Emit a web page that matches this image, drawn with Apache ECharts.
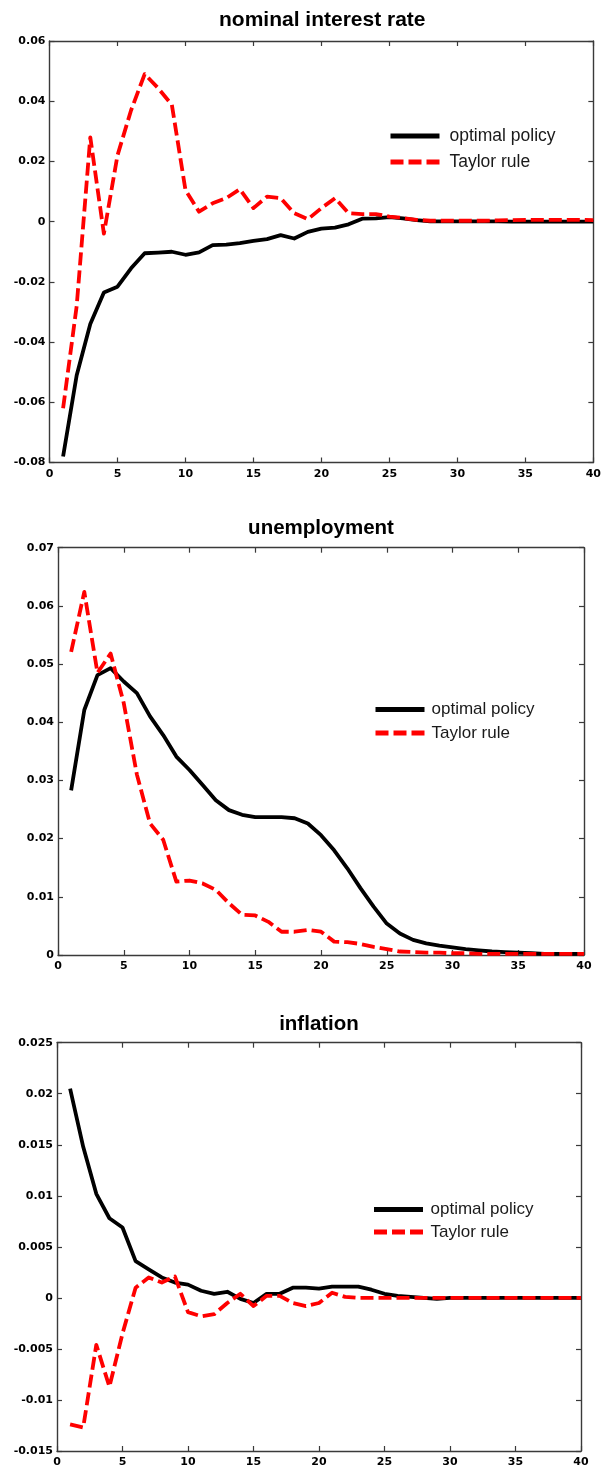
<!DOCTYPE html>
<html>
<head>
<meta charset="utf-8">
<script src="https://cdn.jsdelivr.net/npm/echarts@6/dist/echarts.min.js"></script>
<style>
  html, body { margin: 0; padding: 0; background: #fff; }
  #chart { width: 604px; height: 1472px; }
</style>
</head>
<body>
<div id="chart"></div>
<script>
// Impulse responses over 40 periods: optimal policy vs. Taylor rule
const periods = [1,2,3,4,5,6,7,8,9,10,11,12,13,14,15,16,17,18,19,20,
                 21,22,23,24,25,26,27,28,29,30,31,32,33,34,35,36,37,38,39,40];

const panelTitles = ['nominal interest rate', 'unemployment', 'inflation'];
const seriesNames = ['optimal policy', 'Taylor rule'];

const rateOptimal = [-0.078,-0.051,-0.034,-0.0235,-0.0216,-0.0155,-0.0105,-0.0103,-0.0100,-0.0110,
                     -0.0102,-0.0078,-0.0076,-0.0071,-0.0064,-0.0058,-0.0045,-0.0056,-0.0034,-0.0023,
                     -0.0020,-0.0009,0.0010,0.0011,0.0015,0.0011,0.0005,0.0001,0.0001,0.0001,
                     0.0001,0.0001,0.0001,0,0,0,0,0,0,0];
const rateTaylor = [-0.062,-0.028,0.028,-0.004,0.022,0.037,0.049,0.0443,0.0388,0.0105,
                    0.0033,0.0061,0.0078,0.0108,0.0045,0.0083,0.0078,0.0028,0.0008,0.0045,
                    0.0078,0.0028,0.0025,0.0025,0.0017,0.0012,0.0006,0.0003,0.0003,0.0003,
                    0.0003,0.0003,0.0004,0.0005,0.0006,0.0006,0.0006,0.0006,0.0006,0.0005];

const unempOptimal = [0.0283,0.0421,0.0481,0.0493,0.0470,0.0450,0.0410,0.0378,0.0341,0.0318,
                      0.0292,0.0266,0.0249,0.0241,0.0237,0.0237,0.0237,0.0235,0.0226,0.0206,
                      0.0180,0.0149,0.0115,0.0083,0.0054,0.0037,0.0026,0.0020,0.0016,0.0013,
                      0.0010,0.0008,0.0006,0.0005,0.0004,0.0003,0.0002,0.0002,0.0002,0.0002];
const unempTaylor = [0.0521,0.0624,0.0485,0.0518,0.0433,0.0310,0.0226,0.0198,0.0126,0.0128,
                     0.0123,0.0112,0.0089,0.0069,0.0068,0.0057,0.0040,0.0040,0.0043,0.0040,
                     0.0023,0.0022,0.0019,0.0014,0.0010,0.0006,0.0005,0.0004,0.0004,0.0003,
                     0.0003,0.0002,0.0002,0.0002,0.0002,0.0002,0.0002,0.0002,0.0002,0.0002];

const inflOptimal = [0.0205,0.0148,0.0102,0.0078,0.0069,0.0036,0.0028,0.0020,0.0015,0.0013,
                     0.0007,0.0004,0.0006,-0.0001,-0.0005,0.0004,0.0004,0.0010,0.0010,0.0009,
                     0.0011,0.0011,0.0011,0.0008,0.0004,0.0002,0.0001,0,-0.0001,0,
                     0,0,0,0,0,0,0,0,0,0];
const inflTaylor = [-0.0124,-0.0127,-0.0046,-0.0087,-0.0035,0.0010,0.0020,0.0015,0.0021,-0.0014,
                    -0.0018,-0.0016,-0.0005,0.0004,-0.0008,0.0002,0.0002,-0.0005,-0.0008,-0.0005,
                    0.0005,0.0001,0,0,0,0,0,0,0,0,
                    0,0,0,0,0,0,0,0,0,0];

// y-axis ranges: [min, max, interval]
const yRanges = [[-0.08, 0.06, 0.02], [0, 0.07, 0.01], [-0.015, 0.025, 0.005]];
const panelData = [[rateOptimal, rateTaylor], [unempOptimal, unempTaylor], [inflOptimal, inflTaylor]];

// layout of the three stacked panels (pixels)
const grids = [
  { left: 49.5, top: 41,     width: 545.5, height: 421.5 },
  { left: 58,   top: 547.7,  width: 526,   height: 407.3 },
  { left: 57,   top: 1042.7, width: 524,   height: 408.3 }
];
const titleTops = [10, 518, 1014];
const titleSizes = [21, 20.5, 20.5];
const legendPos = [
  { left: 388,   top: 127,  gap: 8,   font: 17.5, textGap: 5 },
  { left: 373,   top: 701,  gap: 6.4, font: 17,   textGap: 2 },
  { left: 371.5, top: 1201, gap: 5.6, font: 17,   textGap: 2.5 }
];

const frameColor = '#3a3a3a';
const labelFont = { fontFamily: 'DejaVu Sans', fontWeight: 'bold', fontSize: 11, color: '#000' };
const fmt = v => String(+(+v).toFixed(4));

const xAxes = [], yAxes = [], series = [], titles = [], legends = [];

function frameAxis(extra) {
  return Object.assign({
    axisLine: { show: true, onZero: false, lineStyle: { color: frameColor, width: 1.4 } },
    axisTick: { show: true, inside: true, length: 5, lineStyle: { color: frameColor, width: 1.2 } },
    splitLine: { show: false }
  }, extra);
}

grids.forEach((g, i) => {
  const [ymin, ymax, yint] = yRanges[i];
  // bottom and top x axes
  xAxes.push(frameAxis({
    gridIndex: i, type: 'value', min: 0, max: 40, interval: 5, position: 'bottom',
    axisLabel: Object.assign({ margin: 6, formatter: fmt }, labelFont)
  }));
  xAxes.push(frameAxis({
    gridIndex: i, type: 'value', min: 0, max: 40, interval: 5, position: 'top',
    axisLabel: { show: false }
  }));
  // left and right y axes
  yAxes.push(frameAxis({
    gridIndex: i, type: 'value', min: ymin, max: ymax, interval: yint, position: 'left',
    axisLabel: Object.assign({ margin: 4, formatter: fmt }, labelFont)
  }));
  yAxes.push(frameAxis({
    gridIndex: i, type: 'value', min: ymin, max: ymax, interval: yint, position: 'right',
    axisLabel: { show: false }
  }));

  const [opt, tay] = panelData[i];
  series.push({
    name: seriesNames[0], type: 'line', xAxisIndex: 2 * i, yAxisIndex: 2 * i,
    data: periods.map((p, k) => [p, opt[k]]),
    symbol: 'none', showSymbol: false, z: 2,
    lineStyle: { color: '#000', width: 3.8, join: 'round', cap: 'butt' },
    itemStyle: { color: '#000' }
  });
  series.push({
    name: seriesNames[1], type: 'line', xAxisIndex: 2 * i, yAxisIndex: 2 * i,
    data: periods.map((p, k) => [p, tay[k]]),
    symbol: 'none', showSymbol: false, z: 3,
    lineStyle: { color: '#ff0000', width: 3.8, type: [13, 5], join: 'round', cap: 'butt' },
    itemStyle: { color: '#ff0000' }
  });

  titles.push({
    text: panelTitles[i],
    left: g.left + g.width / 2, top: titleTops[i], textAlign: 'center', padding: 0,
    textStyle: { fontFamily: 'Liberation Sans', fontWeight: 'bold', fontSize: titleSizes[i], color: '#000' }
  });

  const lp = legendPos[i];
  legends.push({
    data: seriesNames, orient: 'vertical', left: lp.left, top: lp.top, padding: 0,
    itemWidth: 49, itemHeight: 14, itemGap: lp.gap, selectedMode: false,
    lineStyle: { width: 5 },
    itemStyle: { opacity: 0, borderWidth: 0 },
    textStyle: { fontFamily: 'Liberation Sans', fontSize: lp.font, color: '#1a1a1a', padding: [0, 0, 0, lp.textGap] }
  });
});

const chart = echarts.init(document.getElementById('chart'), null, { renderer: 'canvas' });
chart.setOption({
  backgroundColor: '#fff',
  animation: false,
  title: titles,
  legend: legends,
  grid: grids,
  xAxis: xAxes,
  yAxis: yAxes,
  series: series
});
</script>
</body>
</html>
